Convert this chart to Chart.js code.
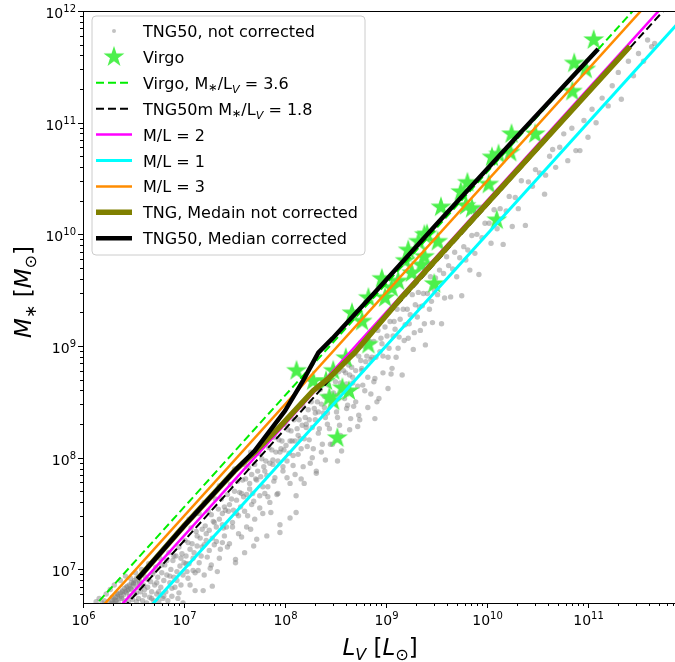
<!DOCTYPE html>
<html>
<head>
<meta charset="utf-8">
<script src="https://cdn.jsdelivr.net/npm/chart.js@4.4.1/dist/chart.umd.min.js"></script>
<style>
  html, body { margin: 0; padding: 0; background: #fff; overflow: hidden; }
  #wrap { width: 700px; height: 662px; }
</style>
</head>
<body>
<div id="wrap"><canvas id="chart" width="700" height="662"></canvas></div>
<script>
// axis ranges and ticks
const xRange = [1e6, 1e12];
const yRange = [5e6, 1e12];
const xMajorTicks = [1e6, 1e7, 1e8, 1e9, 1e10, 1e11, 1e12];
const xTickLabels = ['10^6', '10^7', '10^8', '10^9', '10^10', '10^11', '10^12'];
const yMajorTicks = [1e7, 1e8, 1e9, 1e10, 1e11, 1e12];
const yTickLabels = ['10^7', '10^8', '10^9', '10^10', '10^11', '10^12'];

// TNG50 galaxies, not corrected: [log10 L_V, log10 M*] read off the grey cloud
const tngLog = [
  [6.13,6.71],[6.16,6.74],[6.19,6.7],
  [6.21,6.72],[6.23,6.78],[6.25,6.71],[6.27,6.82],[6.29,6.75],
  [6.31,6.86],[6.32,6.72],[6.34,6.78],[6.35,6.7],[6.37,6.9],[6.38,6.74],[6.39,6.81],
  [6.28,6.7],[6.29,6.72],[6.31,6.73],[6.32,6.75],[6.34,6.76],[6.35,6.78],[6.37,6.79],[6.39,6.8],[6.41,6.83],[6.43,6.84],
  [6.44,6.81],[6.46,6.86],[6.48,6.88],[6.49,6.85],[6.51,6.9],[6.53,6.92],[6.55,6.93],[6.56,6.88],[6.58,6.95],[6.6,6.97],
  [6.3,6.7],[6.33,6.72],[6.36,6.74],[6.38,6.76],[6.4,6.77],[6.42,6.8],[6.45,6.82],[6.47,6.83],[6.5,6.87],[6.52,6.88],
  [6.41,6.72],[6.42,6.94],[6.43,6.79],[6.44,6.85],[6.45,6.71],[6.46,6.76],[6.47,6.92],[6.48,6.82],[6.49,6.73],[6.5,6.88],
  [6.51,6.78],[6.52,6.97],[6.53,6.71],[6.54,6.84],[6.55,6.74],[6.56,6.9],[6.57,6.8],[6.58,7.0],[6.59,6.72],[6.6,6.86],
  [6.61,6.77],[6.62,6.93],[6.63,6.7],[6.64,6.84],[6.65,7.05],[6.66,6.75],[6.67,6.89],[6.68,6.8],[6.69,6.96],[6.7,6.72],
  [6.71,6.86],[6.72,7.02],[6.73,6.78],[6.74,6.93],[6.75,6.71],[6.76,7.1],[6.77,6.84],[6.78,6.97],[6.79,6.74],[6.8,6.9],
  [6.81,7.04],[6.82,6.8],[6.83,6.95],[6.84,6.72],[6.85,7.15],[6.86,6.88],[6.87,7.0],[6.88,6.76],[6.89,7.08],[6.9,6.93],
  [6.91,6.84],[6.92,7.12],[6.93,6.98],[6.94,6.74],[6.95,7.2],[6.96,7.03],[6.97,6.86],[6.98,7.14],[6.99,6.7],[7.0,7.06],
  [6.53,6.79],[6.57,6.86],[6.61,6.82],[6.64,6.91],[6.68,6.74],[6.7,6.98],[6.73,6.88],[6.75,6.8],[6.78,7.04],[6.8,6.76],
  [6.83,7.08],[6.86,6.94],[6.88,6.83],[6.9,7.12],[6.93,6.9],[6.95,6.79],[6.97,7.1],[6.99,6.95],
  [7.01,7.26],[7.02,7.12],[7.03,6.98],[7.04,7.24],[7.05,7.05],[7.06,6.86],[7.07,7.37],[7.08,7.23],[7.09,6.99],[7.1,7.15],
  [7.11,6.81],[7.12,7.34],[7.13,7.21],[7.14,6.99],[7.15,7.5],[7.16,7.28],[7.17,7.12],[7.18,7.36],[7.19,6.81],[7.2,7.22],
  [7.21,7.39],[7.22,7.26],[7.23,7.11],[7.24,7.52],[7.25,7.35],[7.26,7.01],[7.27,7.49],[7.28,7.28],[7.29,7.43],[7.3,7.22],
  [7.31,7.63],[7.32,7.38],[7.33,6.98],[7.34,7.54],[7.35,7.45],[7.36,7.18],[7.37,7.63],[7.38,7.4],[7.39,7.37],[7.4,7.56],
  [7.02,7.05],[7.04,6.92],[7.06,7.18],[7.09,7.1],[7.11,6.97],[7.13,7.3],[7.15,7.06],[7.18,7.2],[7.2,6.95],[7.22,7.32],
  [7.25,7.17],[7.27,7.04],[7.3,7.42],[7.32,7.25],[7.35,7.1],[7.38,7.5],[7.4,7.3],[7.43,7.2],[7.45,7.58],[7.48,7.42],
  [7.05,7.45],[7.12,7.5],[7.2,7.6],[7.28,7.66],[7.35,7.75],[7.42,7.8],[7.5,7.9],[7.58,7.95],[7.66,8.05],
  [7.41,7.53],[7.42,7.38],[7.43,7.67],[7.44,7.52],[7.45,7.23],[7.46,7.76],[7.47,7.63],[7.48,7.38],[7.49,7.53],[7.5,7.7],
  [7.51,7.09],[7.52,7.62],[7.53,7.79],[7.54,7.48],[7.55,7.69],[7.56,7.56],[7.57,7.29],[7.58,7.8],[7.59,7.65],[7.6,7.94],
  [7.61,7.81],[7.62,7.67],[7.63,7.48],[7.64,7.91],[7.65,7.77],[7.66,7.36],[7.67,7.85],[7.68,7.68],[7.69,7.61],[7.7,7.94],
  [7.71,7.81],[7.72,7.27],[7.73,7.88],[7.74,8.04],[7.75,7.55],[7.76,7.83],[7.77,7.99],[7.78,7.74],[7.79,7.92],[7.8,7.68],
  [7.52,7.5],[7.54,7.32],[7.57,7.68],[7.6,7.52],[7.62,7.38],[7.65,7.72],[7.67,7.58],[7.7,7.45],[7.72,7.8],[7.75,7.66],
  [7.78,7.5],[7.8,7.88],[7.83,7.74],[7.85,7.6],[7.88,7.98],[7.9,7.82],[7.93,7.68],[7.95,8.05],[7.98,7.88],
  [7.81,7.97],[7.82,7.84],[7.83,7.65],[7.84,8.09],[7.85,7.95],[7.86,7.51],[7.87,8.07],[7.88,7.94],[7.89,7.79],[7.9,8.18],
  [7.91,8.05],[7.92,7.67],[7.93,7.97],[7.94,8.16],[7.95,7.4],[7.96,8.08],[7.97,8.15],[7.98,7.92],[7.99,8.07],[8.0,8.3],
  [7.38,7.24],[7.51,7.06],[7.69,7.21],[7.28,6.85],[7.6,7.15],[7.82,7.3],[7.95,7.33],[8.05,7.46],
  [8.01,8.11],[8.02,7.97],[8.03,8.25],[8.04,8.04],[8.05,7.77],[8.06,8.24],[8.07,8.15],[8.08,7.93],[8.09,8.34],[8.1,8.15],
  [8.11,7.51],[8.12,8.26],[8.13,8.03],[8.14,8.34],[8.15,8.17],[8.16,7.81],[8.17,8.29],[8.18,8.46],[8.19,8.17],[8.2,8.36],
  [8.21,8.27],[8.22,8.1],[8.23,8.43],[8.24,8.34],[8.25,7.95],[8.26,8.5],[8.27,8.27],[8.28,8.08],[8.29,8.44],[8.3,8.34],
  [8.31,7.86],[8.32,8.5],[8.33,8.41],[8.34,8.26],[8.35,8.61],[8.36,8.48],[8.37,8.12],[8.38,8.4],[8.39,8.55],[8.4,8.36],
  [8.02,7.82],[8.05,8.15],[8.08,8.02],[8.1,7.85],[8.13,8.2],[8.16,8.08],[8.18,7.92],[8.21,8.3],[8.24,8.16],[8.27,8.0],
  [8.3,8.4],[8.33,8.22],[8.36,8.05],[8.39,8.45],[8.42,8.3],[8.45,8.12],[8.48,8.52],[8.4,7.98],
  [8.41,8.55],[8.42,8.4],[8.43,8.65],[8.44,8.26],[8.45,8.51],[8.46,8.74],[8.47,8.12],[8.48,8.58],[8.49,8.49],[8.5,8.68],
  [8.51,8.41],[8.52,8.56],[8.53,8.77],[8.54,8.29],[8.55,8.67],[8.56,8.06],[8.57,8.65],[8.58,8.78],[8.59,8.53],[8.6,8.76],
  [8.11,7.66],[8.19,7.77],[8.31,7.88],[8.52,7.97],
  [8.52,8.36],[8.55,8.2],[8.58,8.6],[8.61,8.44],[8.64,8.25],[8.67,8.72],[8.7,8.5],[8.73,8.38],[8.76,8.8],[8.79,8.6],
  [8.82,8.45],[8.85,8.88],[8.88,8.68],[8.91,8.5],[8.94,8.95],[8.97,8.76],
  [8.61,8.66],[8.62,8.47],[8.63,8.83],[8.64,8.74],[8.65,8.35],[8.66,8.81],[8.67,8.67],[8.68,8.46],[8.69,8.93],[8.7,8.78],
  [8.72,8.64],[8.73,8.91],[8.74,8.34],[8.75,8.87],[8.76,8.78],[8.77,8.65],[8.78,9.0],[8.8,8.86],
  [8.81,8.91],[8.82,8.72],[8.84,9.04],[8.85,8.57],[8.86,8.9],[8.88,9.04],[8.89,8.71],[8.9,8.9],[8.92,9.14],[8.93,8.53],
  [8.95,9.07],[8.96,9.02],[8.97,8.91],[8.99,9.17],[8.72,8.28],[8.89,8.35],[9.02,8.62],
  [9.01,9.09],[9.02,8.9],[9.04,9.22],[9.05,8.75],[9.07,9.09],[9.08,9.22],[9.1,8.9],[9.11,9.33],[9.13,9.08],[9.14,9.24],
  [9.16,8.74],[9.17,9.33],[9.19,9.19],
  [9.03,8.98],[9.06,8.8],[9.09,9.15],[9.12,8.98],[9.18,9.05],[9.23,9.2],[9.28,9.12],[9.33,9.35],[9.38,9.2],[9.45,9.4],
  [9.21,9.33],[9.22,9.07],[9.24,9.28],[9.26,9.46],[9.27,8.97],[9.29,9.37],[9.31,9.26],[9.32,9.48],[9.34,9.14],[9.36,9.36],
  [9.37,9.47],[9.39,9.01],
  [9.41,9.47],[9.43,9.33],[9.44,9.62],[9.46,9.21],[9.48,9.5],[9.49,9.61],[9.51,9.46],[9.53,9.68],[9.55,9.2],[9.57,9.65],
  [9.58,9.43],[9.6,9.8],
  [9.62,9.72],[9.64,9.44],[9.66,9.69],[9.68,9.84],[9.7,9.62],[9.73,9.79],[9.75,9.45],[9.77,9.89],[9.79,9.77],
  [9.81,9.86],[9.83,9.68],[9.85,9.99],[9.88,9.83],[9.9,10.0],[9.92,9.64],[9.95,9.97],[9.98,10.1],
  [10.02,10.1],[10.04,9.92],[10.07,10.22],[10.1,10.05],[10.13,10.23],[10.16,9.91],[10.19,10.21],[10.22,10.34],
  [10.25,10.07],[10.28,10.33],[10.31,10.23],[10.34,10.48],[10.38,10.08],[10.41,10.47],[10.45,10.43],[10.48,10.58],
  [10.52,10.55],[10.57,10.36],[10.58,10.53],[10.62,10.7],[10.65,10.76],[10.68,10.6],[10.72,10.78],[10.76,10.9],
  [10.8,10.66],[10.84,10.95],[10.88,10.75],[10.92,10.75],[10.96,11.02],[11.0,10.87],
  [11.04,11.12],[11.08,11.0],[11.14,11.22],[11.2,11.15],[11.24,11.33],[11.3,11.45],[11.33,11.21],[11.4,11.55],
  [11.45,11.42],[11.5,11.62],[11.55,11.55],[11.59,11.74],[11.63,11.68],[11.66,11.71]
];

// Virgo galaxies [L_V, M*]
const virgoPts = [
  [1.14e11,5.5e11],[7.3e10,3.4e11],[9.5e10,3.0e11],[7.0e10,1.9e11],[1.75e10,7.9e10],[3.0e10,7.9e10],
  [1.3e10,5.2e10],[1.7e10,5.4e10],[6.4e9,2.9e10],[5.5e9,2.4e10],[3.5e9,1.75e10],[7.1e9,1.7e10],
  [1.04e10,2.8e10],[1.25e10,1.34e10],[2.55e9,1.0e10],[2.1e9,8.6e9],[1.66e9,7.2e9],[2.24e9,5.3e9],
  [3.25e9,8.6e9],[1.8e9,4.5e9],[3.0e9,3.6e9],[9.1e8,4.0e9],[1.14e9,3.3e9],[4.6e8,1.97e9],
  [1.3e8,6.0e8],[6.7e8,1.03e9],[4.0e8,7.8e8],[3.0e8,6.0e8],[3.7e8,4.2e8],[4.3e8,3.95e8],
  [2.75e8,3.45e8],[3.0e8,3.2e8],[3.3e8,1.5e8],[9.8e8,2.7e9],[6.7e8,2.7e9],[2.55e8,4.85e8],
  [1.9e8,4.85e8],[5.8e8,1.66e9],[2.4e9,9.9e9],[6.2e9,1.8e10],[1.12e10,4.9e10],[1.32e9,3.8e9],
  [1.55e9,5.8e9],[2.4e9,6.3e9]
];

// constant M/L lines, end points [L_V, M*]
const virgoML = [[1e6, 3.6e6], [1e12, 3.6e12]];
const tng50mML = [[1e6, 1.8e6], [1e12, 1.8e12]];
const ml2 = [[1e6, 2e6], [1e12, 2e12]];
const ml1 = [[1e6, 1e6], [1e12, 1e12]];
const ml3 = [[1e6, 3e6], [1e12, 3e12]];

// binned medians [L_V, M*]
const medianRaw = [
  [3.47e6,8.2e6],[1.0e7,2.45e7],[3.16e7,7.6e7],[5.0e7,1.12e8],[8.9e7,1.9e8],[1.9e8,3.98e8],[2.75e8,5.2e8],
  [5.0e8,8.9e8],[1.41e9,2.69e9],[3.3e10,6.2e10],[2.6e11,4.83e11]
];
const medianCorr = [
  [3.47e6,8.2e6],[1.0e7,2.45e7],[3.16e7,7.6e7],[5.0e7,1.15e8],[1.0e8,2.63e8],[1.51e8,4.9e8],
  [2.14e8,8.71e8],[2.95e8,1.17e9],[7.94e8,3.09e9],[3.16e9,1.23e10],[2.14e10,8.13e10],[1.26e11,4.57e11]
];

const FONT = '"DejaVu Sans", sans-serif';
const xy = arr => arr.map(p => ({ x: p[0], y: p[1] }));

function makeStar(r, color) {
  const c = document.createElement('canvas');
  c.width = c.height = Math.ceil(2 * r + 2);
  const g = c.getContext('2d');
  const cx = c.width / 2, cy = c.height / 2;
  g.beginPath();
  for (let k = 0; k < 10; k++) {
    const rr = k % 2 ? r * 0.382 : r;
    const ang = -Math.PI / 2 + k * Math.PI / 5;
    g.lineTo(cx + rr * Math.cos(ang), cy + rr * Math.sin(ang));
  }
  g.closePath();
  g.fillStyle = color;
  g.fill();
  return c;
}
const starImg = makeStar(11, '#4cf04c');

// text pieces: [text, size, italic, rise]
function rich(ctx, parts, x, y, align) {
  const f = p => `${p[2] ? 'italic ' : ''}${p[1]}px ${FONT}`;
  let w = 0;
  parts.forEach(p => { ctx.font = f(p); w += ctx.measureText(p[0]).width; });
  let cx = align === 'center' ? x - w / 2 : align === 'right' ? x - w : x;
  parts.forEach(p => {
    ctx.font = f(p);
    ctx.fillText(p[0], cx, y - (p[3] || 0));
    cx += ctx.measureText(p[0]).width;
  });
}

// "10^7" -> base + superscript
function powParts(s) {
  const [b, e] = s.split('^');
  return [[b, 14, false, 0], [e, 10, false, 6]];
}

// '∗' lowered small, '_X' italic subscript
function mathParts(str, size) {
  const out = [];
  let buf = '';
  for (let i = 0; i < str.length; i++) {
    const c = str[i];
    if (c === '∗') {
      if (buf) out.push([buf, size, false, 0]); buf = '';
      out.push(['∗', size * 0.7, false, -size * 0.15]);
    } else if (c === '_') {
      if (buf) out.push([buf, size, false, 0]); buf = '';
      out.push([str[++i], size * 0.7, true, -size * 0.25]);
    } else buf += c;
  }
  if (buf) out.push([buf, size, false, 0]);
  return out;
}

const decor = {
  id: 'decor',
  afterDraw(chart) {
    const { ctx, chartArea: a, scales: { x, y } } = chart;
    ctx.save();
    ctx.strokeStyle = '#000';
    ctx.fillStyle = '#000';
    ctx.lineWidth = 1;
    const seg = (x1, y1, x2, y2) => { ctx.beginPath(); ctx.moveTo(x1, y1); ctx.lineTo(x2, y2); ctx.stroke(); };

    // spines
    seg(a.left + 0.5, a.top, a.left + 0.5, a.bottom);
    seg(a.left, a.bottom + 0.5, a.right, a.bottom + 0.5);
    seg(a.left, a.top + 0.5, a.right, a.top + 0.5);
    seg(a.right - 0.5, a.top, a.right - 0.5, a.bottom);

    // minor ticks
    for (let d = 1e6; d < 1e12; d *= 10) {
      for (let m = 2; m <= 9; m++) {
        const v = m * d;
        if (v > xRange[0] && v < xRange[1]) {
          const px = Math.round(x.getPixelForValue(v)) + 0.5;
          seg(px, a.bottom, px, a.bottom + 3);
        }
        if (v > yRange[0] && v < yRange[1]) {
          const py = Math.round(y.getPixelForValue(v)) + 0.5;
          seg(a.left - 3, py, a.left, py);
        }
      }
    }

    // major ticks + labels
    ctx.textBaseline = 'alphabetic';
    xMajorTicks.forEach((v, i) => {
      const px = Math.round(x.getPixelForValue(v)) + 0.5;
      seg(px, a.bottom, px, a.bottom + 5);
      rich(ctx, powParts(xTickLabels[i]), px, a.bottom + 22, 'center');
    });
    yMajorTicks.forEach((v, i) => {
      const py = Math.round(y.getPixelForValue(v)) + 0.5;
      seg(a.left - 5, py, a.left, py);
      rich(ctx, powParts(yTickLabels[i]), a.left - 7, py + 6, 'right');
    });

    // axis titles
    rich(ctx, [['L', 23, true, 0], ['V', 16, true, -5], [' [', 23, false, 0], ['L', 23, true, 0], ['⊙', 16, false, -5], [']', 23, false, 0]],
      (a.left + a.right) / 2 - 6, 655, 'center');
    ctx.save();
    ctx.translate(31, 292);
    ctx.rotate(-Math.PI / 2);
    rich(ctx, [['M', 23, true, 0], ['∗', 16, false, -5], [' [', 23, false, 0], ['M', 23, true, 0], ['⊙', 16, false, -5], [']', 23, false, 0]],
      0, 0, 'center');
    ctx.restore();

    // legend box
    const bx = 92, by = 16, bw = 273, bh = 239, r = 4;
    ctx.beginPath();
    ctx.moveTo(bx + r, by);
    ctx.arcTo(bx + bw, by, bx + bw, by + bh, r);
    ctx.arcTo(bx + bw, by + bh, bx, by + bh, r);
    ctx.arcTo(bx, by + bh, bx, by, r);
    ctx.arcTo(bx, by, bx + bw, by, r);
    ctx.closePath();
    ctx.fillStyle = 'rgba(255,255,255,0.8)';
    ctx.fill();
    ctx.strokeStyle = '#cccccc';
    ctx.stroke();

    chart.data.datasets.forEach((ds, i) => {
      const cy = 31 + i * 25.9;
      const hx0 = 96, hx1 = 132, hc = 114;
      ctx.save();
      if (ds.pointStyle instanceof HTMLCanvasElement) {
        ctx.drawImage(ds.pointStyle, hc - ds.pointStyle.width / 2, cy - ds.pointStyle.height / 2);
      } else if (ds.showLine) {
        ctx.strokeStyle = ds.borderColor;
        ctx.lineWidth = ds.borderWidth;
        ctx.setLineDash(ds.borderDash || []);
        seg(hx0, cy, hx1, cy);
      } else {
        ctx.fillStyle = ds.backgroundColor;
        ctx.beginPath();
        ctx.arc(hc, cy, 2, 0, Math.PI * 2);
        ctx.fill();
      }
      ctx.restore();
      ctx.fillStyle = '#000';
      rich(ctx, mathParts(ds.label, 16), 143, cy + 6, 'left');
    });
    ctx.restore();
  }
};

const lineSet = (label, data, color, width, dash, order) => ({
  label, data: xy(data), showLine: true, borderColor: color, backgroundColor: color,
  borderWidth: width, borderDash: dash, pointRadius: 0, pointHoverRadius: 0,
  fill: false, tension: 0, clip: 0, order
});

new Chart(document.getElementById('chart'), {
  type: 'scatter',
  data: {
    datasets: [
      {
        label: 'TNG50, not corrected',
        data: tngLog.map(p => ({ x: 10 ** p[0], y: 10 ** p[1] })),
        backgroundColor: 'rgba(128,128,128,0.48)', borderWidth: 0,
        pointRadius: 2.7, pointHoverRadius: 2.7, clip: 0, order: 9
      },
      {
        label: 'Virgo',
        data: xy(virgoPts),
        pointStyle: starImg, pointRadius: 11, pointHoverRadius: 11,
        backgroundColor: '#4cf04c', borderWidth: 0, clip: 0, order: 8
      },
      lineSet('Virgo, M∗/L_V = 3.6', virgoML, '#00ee00', 2, [8, 4], 7),
      lineSet('TNG50m M∗/L_V = 1.8', tng50mML, '#000000', 2, [8, 4], 6),
      lineSet('M/L = 2', ml2, '#ff00ff', 2.5, [], 5),
      lineSet('M/L = 1', ml1, '#00ffff', 3, [], 4),
      lineSet('M/L = 3', ml3, '#ff8c00', 2.5, [], 3),
      lineSet('TNG, Medain not corrected', medianRaw, '#808000', 5.5, [], 2),
      lineSet('TNG50, Median corrected', medianCorr, '#000000', 4.5, [], 1)
    ]
  },
  options: {
    responsive: false,
    animation: false,
    events: [],
    layout: { padding: { left: 83, right: 2, top: 8, bottom: 59 } },
    plugins: { legend: { display: false }, tooltip: { enabled: false } },
    scales: {
      x: { type: 'logarithmic', min: xRange[0], max: xRange[1], display: false },
      y: { type: 'logarithmic', min: yRange[0], max: yRange[1], display: false }
    }
  },
  plugins: [decor]
});
</script>
</body>
</html>
